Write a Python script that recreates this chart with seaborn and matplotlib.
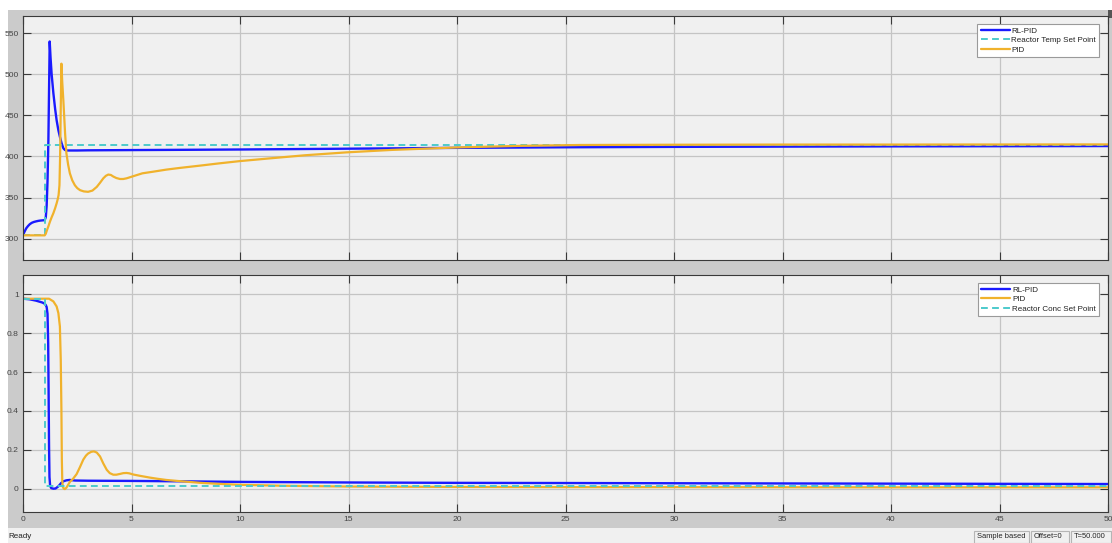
import matplotlib
matplotlib.use("Agg")
import matplotlib.pyplot as plt
import seaborn as sns
from matplotlib.patches import Rectangle

# ---------------- data ----------------
x_ticks = [0, 5, 10, 15, 20, 25, 30, 35, 40, 45, 50]
temp_ticks = [300, 350, 400, 450, 500, 550]
conc_ticks = [0, 0.2, 0.4, 0.6, 0.8, 1]
conc_tick_labels = ["0", "0.2", "0.4", "0.6", "0.8", "1"]

# Reactor temperature, RL-PID controller
t_temp_rl = [0, 0.08, 0.15, 0.23, 0.31, 0.4, 0.5, 0.6, 0.7, 0.8, 0.92, 1.0, 1.05,
             1.09, 1.13, 1.17, 1.2, 1.23, 1.27, 1.32, 1.4, 1.48, 1.55, 1.63, 1.7,
             1.78, 1.86, 1.93, 2.0, 2.5, 3, 5, 8, 10, 15, 20, 25, 30, 35, 40, 45, 50]
temp_rl = [304.5, 309, 312.6, 315.3, 317.5, 319.2, 320.3, 321, 321.6, 322, 322.3, 322.5, 326,
           340, 370, 420, 480, 540, 520, 500, 477, 458, 444, 432, 424,
           416, 410, 408, 407.3, 407.3, 407.5, 407.8, 408.2, 408.5, 409.5, 410.5, 411.2,
           411.7, 412, 412.3, 412.5, 412.7]

# Reactor temperature, conventional PID
t_temp_pid = [0, 1.0, 1.05, 1.1, 1.17, 1.24, 1.32, 1.4, 1.48, 1.55, 1.6, 1.64, 1.68, 1.71,
              1.74, 1.77, 1.81, 1.86, 1.9, 1.94, 2.0, 2.08, 2.16, 2.27, 2.39, 2.5, 2.63,
              2.8, 3.0, 3.2, 3.4, 3.55, 3.7, 3.82, 3.93, 4.05, 4.16, 4.3, 4.47, 4.62,
              4.77, 5.08, 5.5, 6.0, 6.6, 7.2, 8.2, 9, 10, 11.5, 13, 14.9, 17, 20, 23,
              25.7, 30, 35, 40, 45, 50]
temp_pid = [304, 304, 306, 310, 315, 320.5, 326, 331, 337, 343, 348, 353, 365, 400,
            460, 513, 490, 468, 448, 428, 404, 390, 379.5, 371, 365, 361.5, 359,
            357.5, 357, 358.5, 363, 368, 373.4, 376.5, 378, 377.5, 375.6, 373.8, 372.6, 372.6,
            373.4, 376, 379.5, 381.5, 384, 386, 389, 391.5, 394.4, 398, 401.5, 405, 408, 411, 413,
            414, 414.3, 414.5, 414.5, 414.6, 414.7]

# Reactor temperature set point
t_temp_sp = [0, 1.01, 1.01, 50]
temp_sp = [305, 305, 413.5, 413.5]

# Reactor concentration, RL-PID controller
t_conc_rl = [0, 0.3, 0.6, 0.9, 1.0, 1.05, 1.09, 1.13, 1.16, 1.18, 1.2, 1.22, 1.25, 1.3,
             1.4, 1.5, 1.63, 1.75, 1.86, 2.0, 2.15, 2.4, 3, 5, 7.2, 10, 15, 20, 25.7,
             30, 35, 40, 45, 50]
conc_rl = [0.978, 0.975, 0.968, 0.958, 0.952, 0.945, 0.935, 0.9, 0.75, 0.5, 0.22, 0.06,
           0.015, 0.003, 0.0, 0.001, 0.012, 0.028, 0.038, 0.043, 0.045, 0.042, 0.041,
           0.040, 0.038, 0.035, 0.032, 0.030, 0.029, 0.028, 0.027, 0.026, 0.025, 0.024]

# Reactor concentration, conventional PID
t_conc_pid = [0, 1.0, 1.2, 1.4, 1.55, 1.63, 1.7, 1.74, 1.77, 1.79, 1.81, 1.84, 1.88, 1.93,
              2.0, 2.08, 2.16, 2.3, 2.47, 2.62, 2.78, 2.9, 3.0, 3.15, 3.27, 3.4, 3.55,
              3.7, 3.86, 4.0, 4.16, 4.3, 4.47, 4.62, 4.77, 4.9, 5.08, 5.4, 5.85, 6.2,
              6.6, 7.2, 8.2, 9, 10, 12, 15, 20, 25, 30, 40, 50]
conc_pid = [0.978, 0.978, 0.978, 0.964, 0.938, 0.904, 0.835, 0.664, 0.407, 0.15, 0.04,
            0.008, 0.0, -0.002, 0.005, 0.02, 0.035, 0.05, 0.075, 0.11, 0.15, 0.17, 0.181,
            0.19, 0.192, 0.186, 0.166, 0.13, 0.097, 0.08, 0.072, 0.072, 0.076, 0.08,
            0.081, 0.079, 0.073, 0.066, 0.057, 0.051, 0.045, 0.039, 0.03, 0.025, 0.02,
            0.015, 0.011, 0.009, 0.008, 0.008, 0.007, 0.007]

# Reactor concentration set point
t_conc_sp = [0, 1.01, 1.01, 50]
conc_sp = [0.978, 0.978, 0.015, 0.015]

# ---------------- style ----------------
BLUE = "#1a1aff"
GOLD = "#f0b22c"
CYAN = "#4ccacc"
AX_BG = "#f0f0f0"
PANEL = "#cbcbcb"
W, H = 1112, 543

sns.set_style("white")
plt.rcParams["font.family"] = ["Liberation Sans", "DejaVu Sans"]

fig = plt.figure(figsize=(W / 100, H / 100), dpi=100, facecolor="white")


def fx(px):
    return px / W


def fy(py):
    return 1 - py / H


def fig_rect(x0, y0, x1, y1, **kw):
    """Rectangle in figure pixels (top-left origin)."""
    r = Rectangle((fx(x0), fy(y1)), fx(x1) - fx(x0), fy(y0) - fy(y1),
                  transform=fig.transFigure, **kw)
    fig.add_artist(r)
    return r


# scope window panel, corner widget and status bar
fig_rect(8, 10, W, 528, facecolor=PANEL, edgecolor="none", zorder=-5)
fig_rect(1108, 10, W, 18, facecolor="#555555", edgecolor="none", zorder=-4)
fig_rect(8, 528, W, H, facecolor="#f0f0f0", edgecolor="none", zorder=-5)

ax1 = fig.add_axes([fx(23), fy(260), fx(1108) - fx(23), fy(16) - fy(260)])
ax2 = fig.add_axes([fx(23), fy(512), fx(1108) - fx(23), fy(275) - fy(512)])
ax1.set_zorder(2)
ax2.set_zorder(2)

line_kw = dict(estimator=None, sort=False, legend=False)

# upper panel: reactor temperature
sns.lineplot(x=t_temp_rl, y=temp_rl, ax=ax1, color=BLUE, linewidth=1.7, **line_kw)
sns.lineplot(x=t_temp_sp, y=temp_sp, ax=ax1, color=CYAN, linewidth=1.4, **line_kw)
ax1.lines[-1].set_linestyle((0, (3.5, 2.2)))
sns.lineplot(x=t_temp_pid, y=temp_pid, ax=ax1, color=GOLD, linewidth=1.6, **line_kw)

# lower panel: reactor concentration
sns.lineplot(x=t_conc_rl, y=conc_rl, ax=ax2, color=BLUE, linewidth=1.7, **line_kw)
sns.lineplot(x=t_conc_pid, y=conc_pid, ax=ax2, color=GOLD, linewidth=1.6, **line_kw)
sns.lineplot(x=t_conc_sp, y=conc_sp, ax=ax2, color=CYAN, linewidth=1.4, **line_kw)
ax2.lines[-1].set_linestyle((0, (3.5, 2.2)))

for ax in (ax1, ax2):
    ax.set_facecolor(AX_BG)
    ax.set_xlim(0, 50)
    ax.set_xticks(x_ticks)
    ax.grid(True, color="#c4c4c4", linewidth=0.9)
    ax.set_axisbelow(True)
    ax.tick_params(direction="in", length=6, width=0.8, colors="#3a3a3a",
                   top=True, right=True, left=True, bottom=True,
                   labelsize=6.1, labelcolor="#444444", pad=3)
    for s in ax.spines.values():
        s.set_color("#3a3a3a")
        s.set_linewidth(0.8)
    ax.set_xlabel("")
    ax.set_ylabel("")

ax1.set_ylim(274, 571)
ax1.set_yticks(temp_ticks)
ax1.tick_params(labelbottom=False)

ax2.set_ylim(-0.12, 1.1)
ax2.set_yticks(conc_ticks)
ax2.set_yticklabels(conc_tick_labels)
ax2.set_xticklabels([str(v) for v in x_ticks])

leg_kw = dict(fontsize=5.8, frameon=True, fancybox=False, edgecolor="#9a9a9a",
              facecolor="white", framealpha=1, handlelength=3.6, handletextpad=0.2,
              labelspacing=0.22, borderpad=0.4, borderaxespad=0, loc="upper right")
l1 = ax1.legend([ax1.lines[0], ax1.lines[1], ax1.lines[2]],
                ["RL-PID", "Reactor Temp Set Point", "PID"],
                bbox_to_anchor=(fx(1099), fy(24)), bbox_transform=fig.transFigure, **leg_kw)
l2 = ax2.legend([ax2.lines[0], ax2.lines[1], ax2.lines[2]],
                ["RL-PID", "PID", "Reactor Conc Set Point"],
                bbox_to_anchor=(fx(1099), fy(283)), bbox_transform=fig.transFigure, **leg_kw)
for lg in (l1, l2):
    lg.get_frame().set_linewidth(0.8)
    for txt in lg.get_texts():
        txt.set_color("#222222")

# status bar
fig.text(fx(8), fy(537), "Ready", fontsize=5.8, color="#222222", va="center", ha="left")
status_boxes = [("Sample based", 974, 1029), ("Offset=0", 1031, 1069), ("T=50.000", 1071, 1111)]
for label, x0, x1 in status_boxes:
    fig_rect(x0, 531, x1, H, facecolor="#f0f0f0", edgecolor="#b5b5b5", linewidth=0.8, zorder=1)
    fig.text(fx(x0 + 3), fy(537), label, fontsize=5.4, color="#222222",
             va="center", ha="left", zorder=3)

fig.savefig("out.png", dpi=100, facecolor="white")
